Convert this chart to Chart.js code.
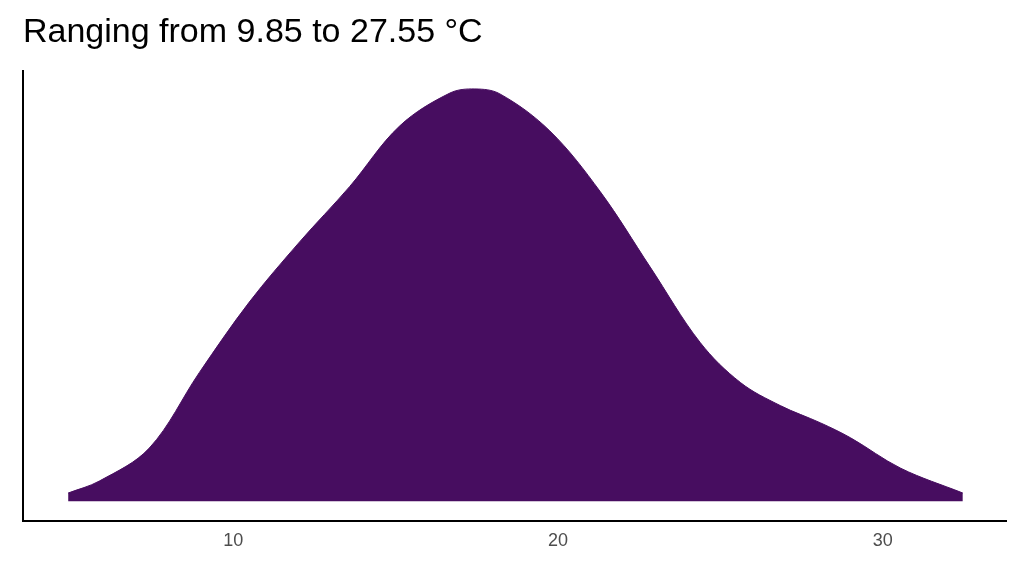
<!DOCTYPE html>
<html><head><meta charset="utf-8">
<script src="https://cdn.jsdelivr.net/npm/chart.js@4"></script>
<style>html,body{margin:0;background:#fff}#w{width:1024px;height:576px;position:relative}</style>
</head><body><div id="w"><canvas id="c"></canvas></div>
<script>
const temps = [4.91,5.87,7.41,8.95,10.49,12.04,13.58,15.12,16.67,17.44,18.21,19.75,21.30,22.84,24.38,25.62,26.85,28.09,29.01,30.56,32.47];
const density = [0.020,0.049,0.129,0.312,0.483,0.629,0.763,0.910,0.990,1.0,0.988,0.898,0.751,0.568,0.385,0.288,0.232,0.190,0.154,0.080,0.020];
const xTicks = [10,20,30];
const title = 'Ranging from 9.85 to 27.55 °C';
new Chart(document.getElementById('c'),{
  type:'line',
  data:{datasets:[{data:temps.map((t,i)=>({x:t,y:density[i]})),fill:'origin',backgroundColor:'#470D60',borderColor:'#470D60',borderWidth:1,pointRadius:0,tension:0.35}]},
  options:{responsive:true,maintainAspectRatio:false,animation:false,
    layout:{padding:{left:23,right:18,top:0,bottom:22}},
    plugins:{legend:{display:false},tooltip:{enabled:false},
      title:{display:true,text:title,align:'start',color:'#000',font:{family:'Liberation Sans',size:34,weight:'normal'},padding:{top:12,bottom:18}}},
    scales:{
      x:{type:'linear',min:3.52,max:33.8,afterBuildTicks:a=>{a.ticks=xTicks.map(v=>({value:v}));},
        grid:{display:false,drawOnChartArea:false,drawTicks:true,tickLength:7,tickColor:'#333'},
        border:{display:true,color:'#000',width:2},
        ticks:{color:'#4d4d4d',font:{family:'Liberation Sans',size:18},padding:2}},
      y:{min:-0.0488,max:1.044,grid:{display:false,drawTicks:false},border:{display:true,color:'#000',width:2},ticks:{display:false}}
    }}
});
</script></body></html>
